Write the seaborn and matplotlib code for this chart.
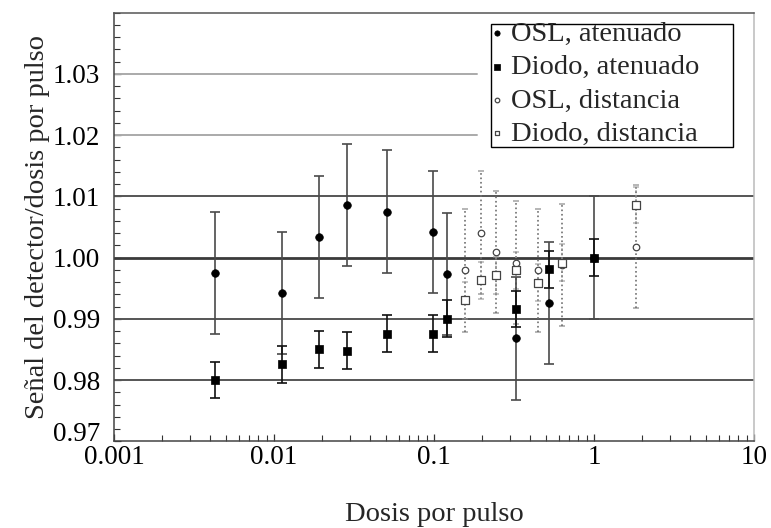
import numpy as np
import pandas as pd
import matplotlib
matplotlib.use("Agg")
import matplotlib.pyplot as plt
import matplotlib.ticker as mticker
from matplotlib.transforms import ScaledTranslation
from matplotlib.patches import Rectangle
import seaborn as sns

# ---- data ----
x_aten = [0.00428, 0.0112, 0.0190, 0.0287, 0.0511, 0.0986, 0.120, 0.3255, 0.523, 1.0]
osl_aten = [0.9975, 0.9942, 1.0034, 1.0086, 1.0075, 1.0042, 0.9973, 0.9868, 0.9926, 1.0000]
osl_aten_err = [0.010] * 10
diodo_aten = [0.9800, 0.9826, 0.9850, 0.9848, 0.9876, 0.9876, 0.9900, 0.9916, 0.9981, 1.0000]
diodo_aten_err = [0.003] * 10

x_dist = [0.156, 0.196, 0.244, 0.3255, 0.4447, 0.634, 1.82]
osl_dist = [0.9979, 1.0041, 1.0009, 0.9992, 0.9979, 0.9988, 1.0018]
osl_dist_err = [0.010] * 7
diodo_dist = [0.9930, 0.9963, 0.9971, 0.9979, 0.9959, 0.9992, 1.0086]
diodo_dist_err = [0.003] * 7

labels = ["OSL, atenuado", "Diodo, atenuado", "OSL, distancia", "Diodo, distancia"]
y_ticks = [0.97, 0.98, 0.99, 1.00, 1.01, 1.02, 1.03]
x_ticks = [0.001, 0.01, 0.1, 1, 10]
x_tick_labels = ["0.001", "0.01", "0.1", "1", "10"]

sns.set_theme(style="ticks")
plt.rcParams["font.family"] = ["Liberation Serif", "DejaVu Serif"]

fig = plt.figure(figsize=(7.71, 5.28), dpi=100)
ax = fig.add_axes([114 / 771, 1 - 441.3 / 528, 640 / 771, 428.6 / 528])

# gridlines
for yv, c, lw, xm in [(0.98, "#555555", 1.4, 1), (0.99, "#555555", 1.4, 1),
                      (1.00, "#3a3a3a", 2.0, 1), (1.01, "#555555", 1.4, 1),
                      (1.02, "#aaaaaa", 1.4, 0.567), (1.03, "#aaaaaa", 1.4, 0.567)]:
    ax.axhline(yv, color=c, lw=lw, xmax=xm, zorder=1)

def ebar(x, y, e, color, ls, lw, cap):
    _, caps, bars = ax.errorbar(x, y, yerr=e, fmt="none", ecolor=color,
                                elinewidth=lw, capsize=cap, capthick=lw, zorder=2)
    for b in bars:
        b.set_linestyle(ls)
    if ls != "-":
        for c in caps:
            c.set_alpha(0.6)

ebar(x_dist, osl_dist, osl_dist_err, "#707070", ":", 1.2, 2.5)
ebar(x_dist, diodo_dist, diodo_dist_err, "#909090", ":", 1.2, 2.5)
ebar(x_aten, osl_aten, osl_aten_err, "#4a4a4a", "-", 1.2, 3.5)
ebar(x_aten, diodo_aten, diodo_aten_err, "#111111", "-", 1.2, 3.5)

df_osl_a = pd.DataFrame({"x": x_aten, "y": osl_aten})
df_dio_a = pd.DataFrame({"x": x_aten, "y": diodo_aten})
df_osl_d = pd.DataFrame({"x": x_dist, "y": osl_dist})
df_dio_d = pd.DataFrame({"x": x_dist, "y": diodo_dist})

sns.scatterplot(data=df_osl_d, x="x", y="y", ax=ax, marker="o", s=22,
                facecolor="white", edgecolor="#444444", linewidth=0.9,
                label=labels[2], zorder=3)
sns.scatterplot(data=df_dio_d, x="x", y="y", ax=ax, marker="s", s=26,
                facecolor="white", edgecolor="#444444", linewidth=0.9,
                label=labels[3], zorder=3)
sns.scatterplot(data=df_osl_a, x="x", y="y", ax=ax, marker="o", s=30,
                color="black", edgecolor="black", linewidth=0.5,
                label=labels[0], zorder=4)
sns.scatterplot(data=df_dio_a, x="x", y="y", ax=ax, marker="s", s=34,
                color="black", edgecolor="black", linewidth=0.5,
                label=labels[1], zorder=4)

ax.set_xscale("log")
ax.set_xlim(0.001, 10)
ax.set_ylim(0.97, 1.04)
ax.set_xticks(x_ticks)
ax.set_xticklabels(x_tick_labels)
ax.xaxis.set_minor_locator(mticker.LogLocator(base=10, subs=np.arange(2, 10)))
ax.xaxis.set_minor_formatter(mticker.NullFormatter())
ax.set_yticks(y_ticks)
ax.set_yticklabels([f"{v:.2f}" for v in y_ticks])
ax.yaxis.set_minor_locator(mticker.MultipleLocator(0.002))

fs_tick = 19.5
fs_lab = 20.5
ax.tick_params(axis="both", which="major", direction="in", length=5, width=0.9,
               color="#333333", labelsize=fs_tick, labelcolor="black", pad=3)
ax.tick_params(axis="both", which="minor", direction="in", length=4, width=0.8,
               color="#333333")
ax.tick_params(axis="y", which="major", pad=10)

# raise the bottom tick label as in the reference
lab0 = ax.get_yticklabels()[0]
lab0.set_transform(lab0.get_transform() + ScaledTranslation(0, 10 / 100, fig.dpi_scale_trans))

ax.set_xlabel("Dosis por pulso", fontsize=fs_lab, labelpad=23)
ax.set_ylabel("Señal del detector/dosis por pulso", fontsize=fs_lab, labelpad=2)

ax.spines["left"].set_color("#444444")
ax.spines["bottom"].set_color("#444444")
ax.spines["top"].set_color("#555555")
ax.spines["right"].set_color("#bbbbbb")
for s in ax.spines.values():
    s.set_linewidth(1.1)
ax.set_facecolor("white")

# legend box (drawn as a frame) + legend entries
x0, x1 = (490.7 - 114) / 640, (733 - 114) / 640
y0, y1 = (441.3 - 147) / 428.6, (441.3 - 24) / 428.6
ax.add_patch(Rectangle((x0, y0), x1 - x0, y1 - y0, transform=ax.transAxes,
                       facecolor="white", edgecolor="black", linewidth=1.0,
                       zorder=9))

h, l = ax.get_legend_handles_labels()
order = [l.index(t) for t in labels]
leg = ax.legend([h[i] for i in order], [l[i] for i in order],
                loc="upper left", bbox_to_anchor=((491 - 114) / 640, (441.3 - 21) / 428.6),
                borderaxespad=0, fontsize=fs_lab, frameon=False,
                borderpad=0.0, handlelength=0.4, handletextpad=0.3,
                labelspacing=0.26, markerscale=0.7)
leg.set_zorder(10)

fig.savefig("out.png", dpi=100, facecolor="white")
